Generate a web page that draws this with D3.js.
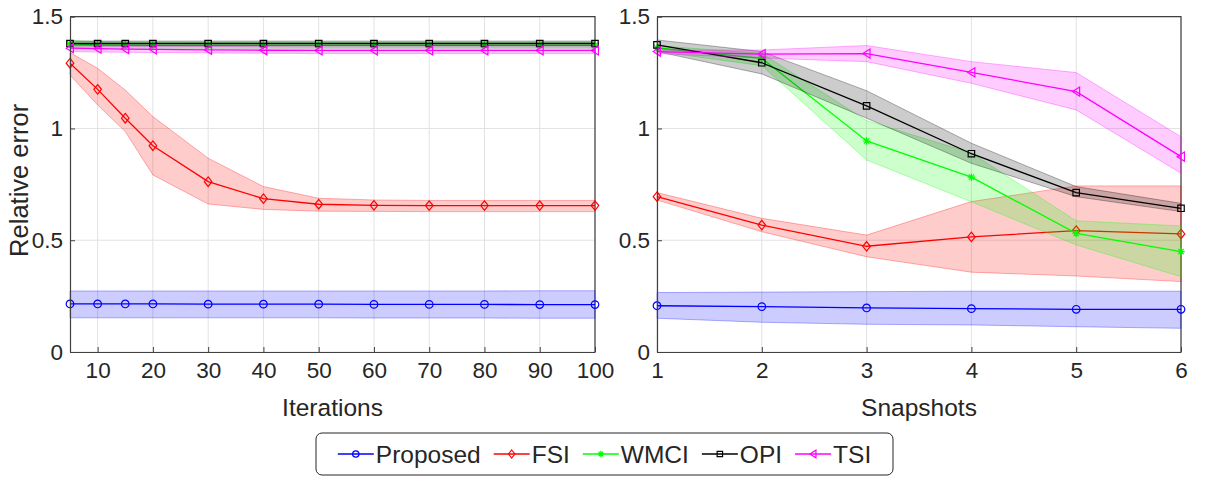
<!DOCTYPE html>
<html>
<head>
<meta charset="utf-8">
<script src="https://cdn.jsdelivr.net/npm/d3@7"></script>
<style>
  body { margin: 0; background: #fff; }
  text { font-family: "Liberation Sans", Arial, sans-serif; fill: #262626; }
</style>
</head>
<body>
<div id="chart-area"></div>
<script>
// ---- data ----
const seriesNames = ["Proposed", "FSI", "WMCI", "OPI", "TSI"]
const seriesColors = ["#0000ff", "#ff0000", "#00ff00", "#000000", "#ff00ff"]
const seriesMarkers = ["circle", "diamond", "asterisk", "square", "triangleLeft"]

// left panel: iterations
const iterations = [5, 10, 15, 20, 30, 40, 50, 60, 70, 80, 90, 100]
const iterTicks = [10, 20, 30, 40, 50, 60, 70, 80, 90, 100]
const iterProposed = [0.215, 0.215, 0.215, 0.215, 0.214, 0.214, 0.214, 0.213, 0.213, 0.213, 0.212, 0.212]
const iterProposedHi = [0.273, 0.273, 0.273, 0.273, 0.273, 0.273, 0.273, 0.273, 0.273, 0.273, 0.274, 0.274]
const iterProposedLo = [0.153, 0.153, 0.153, 0.153, 0.153, 0.153, 0.153, 0.152, 0.152, 0.152, 0.151, 0.151]
const iterFSI = [1.292, 1.175, 1.046, 0.923, 0.762, 0.686, 0.661, 0.656, 0.655, 0.655, 0.655, 0.655]
const iterFSIHi = [1.339, 1.269, 1.172, 1.053, 0.867, 0.740, 0.688, 0.680, 0.678, 0.678, 0.678, 0.678]
const iterFSILo = [1.239, 1.105, 0.986, 0.792, 0.662, 0.638, 0.630, 0.629, 0.628, 0.628, 0.628, 0.628]
const iterWMCI = [1.378, 1.374, 1.373, 1.372, 1.372, 1.372, 1.372, 1.372, 1.372, 1.372, 1.372, 1.372]
const iterWMCIHi = [1.395, 1.388, 1.386, 1.385, 1.385, 1.385, 1.385, 1.385, 1.385, 1.385, 1.385, 1.385]
const iterWMCILo = [1.362, 1.360, 1.359, 1.359, 1.359, 1.359, 1.359, 1.359, 1.359, 1.359, 1.359, 1.359]
const iterOPI = [1.380, 1.380, 1.380, 1.380, 1.380, 1.380, 1.380, 1.380, 1.380, 1.380, 1.380, 1.380]
const iterOPIHi = [1.391, 1.391, 1.391, 1.391, 1.391, 1.391, 1.391, 1.391, 1.391, 1.391, 1.391, 1.391]
const iterOPILo = [1.369, 1.369, 1.369, 1.369, 1.369, 1.369, 1.369, 1.369, 1.369, 1.369, 1.369, 1.369]
const iterTSI = [1.359, 1.357, 1.355, 1.354, 1.352, 1.350, 1.349, 1.349, 1.349, 1.349, 1.349, 1.349]
const iterTSIHi = [1.372, 1.370, 1.369, 1.368, 1.367, 1.366, 1.365, 1.365, 1.365, 1.365, 1.365, 1.365]
const iterTSILo = [1.344, 1.342, 1.341, 1.340, 1.338, 1.336, 1.335, 1.335, 1.335, 1.335, 1.335, 1.335]

// right panel: snapshots
const snapshots = [1, 2, 3, 4, 5, 6]
const snapProposed = [0.207, 0.203, 0.197, 0.194, 0.191, 0.191]
const snapProposedHi = [0.266, 0.268, 0.270, 0.272, 0.272, 0.272]
const snapProposedLo = [0.151, 0.133, 0.124, 0.121, 0.113, 0.106]
const snapFSI = [0.695, 0.568, 0.473, 0.515, 0.543, 0.528]
const snapFSIHi = [0.713, 0.598, 0.523, 0.673, 0.743, 0.743]
const snapFSILo = [0.680, 0.538, 0.426, 0.357, 0.340, 0.315]
const snapWMCI = [1.360, 1.314, 0.944, 0.782, 0.531, 0.449]
const snapWMCIHi = [1.370, 1.336, 1.035, 0.890, 0.587, 0.564]
const snapWMCILo = [1.345, 1.281, 0.859, 0.672, 0.479, 0.337]
const snapOPI = [1.374, 1.294, 1.101, 0.887, 0.713, 0.643]
const snapOPIHi = [1.396, 1.344, 1.169, 0.934, 0.740, 0.665]
const snapOPILo = [1.344, 1.244, 1.046, 0.844, 0.695, 0.628]
const snapTSI = [1.344, 1.333, 1.335, 1.251, 1.165, 0.874]
const snapTSIHi = [1.350, 1.351, 1.371, 1.299, 1.250, 0.963]
const snapTSILo = [1.335, 1.315, 1.299, 1.202, 1.083, 0.800]

const yTicks = [0, 0.5, 1, 1.5]
const yTickLabels = ["0", "0.5", "1", "1.5"]

// ---- layout ----
const W = 1208, H = 477
const TOP = 16.7, BOTTOM = 352
const svg = d3.select("#chart-area").append("svg")
	.attr("width", W)
	.attr("height", H)

const y = d3.scaleLinear().domain([0, 1.5]).range([BOTTOM, TOP])

const panels = [
	{
		x: d3.scaleLinear().domain([5, 100]).range([70, 595]),
		xs: iterations, ticks: iterTicks, label: "Iterations",
		mean: [iterProposed, iterFSI, iterWMCI, iterOPI, iterTSI],
		hi: [iterProposedHi, iterFSIHi, iterWMCIHi, iterOPIHi, iterTSIHi],
		lo: [iterProposedLo, iterFSILo, iterWMCILo, iterOPILo, iterTSILo]
	},
	{
		x: d3.scaleLinear().domain([1, 6]).range([657, 1181]),
		xs: snapshots, ticks: snapshots, label: "Snapshots",
		mean: [snapProposed, snapFSI, snapWMCI, snapOPI, snapTSI],
		hi: [snapProposedHi, snapFSIHi, snapWMCIHi, snapOPIHi, snapTSIHi],
		lo: [snapProposedLo, snapFSILo, snapWMCILo, snapOPILo, snapTSILo]
	}
]

// marker paths, centred at 0,0
function markerPath(type, s) {
	switch (type) {
		case "circle":
			return `M${-s},0A${s},${s} 0 1,0 ${s},0A${s},${s} 0 1,0 ${-s},0Z`
		case "diamond":
			return `M0,${-s * 1.25}L${s},0L0,${s * 1.25}L${-s},0Z`
		case "square":
			return `M${-s * 0.85},${-s * 0.85}H${s * 0.85}V${s * 0.85}H${-s * 0.85}Z`
		case "triangleLeft":
			return `M${-s},0L${s * 0.9},${-s * 1.2}L${s * 0.9},${s * 1.2}Z`
		case "asterisk": {
			const d = s * 0.7
			return `M${-s},0H${s}M0,${-s}V${s}M${-d},${-d}L${d},${d}M${-d},${d}L${d},${-d}`
		}
	}
}

panels.forEach(p => {
	const x = p.x
	const [x0, x1] = x.range()
	const g = svg.append("g")

	// grid
	g.selectAll(".vgrid").data(p.ticks).enter().append("line")
		.attr("x1", d => x(d)).attr("x2", d => x(d))
		.attr("y1", TOP).attr("y2", BOTTOM)
		.attr("stroke", "#e2e2e2").attr("stroke-width", 1)
	g.selectAll(".hgrid").data(yTicks).enter().append("line")
		.attr("x1", x0).attr("x2", x1)
		.attr("y1", d => y(d)).attr("y2", d => y(d))
		.attr("stroke", "#e2e2e2").attr("stroke-width", 1)

	// box top / right
	g.append("path")
		.attr("d", `M${x0},${TOP}H${x1}V${BOTTOM}`)
		.attr("fill", "none").attr("stroke", "#404040").attr("stroke-width", 1.2)

	// series: band then line + markers
	seriesNames.forEach((name, i) => {
		const col = seriesColors[i]
		const idx = d3.range(p.xs.length)
		const area = d3.area()
			.x(j => x(p.xs[j]))
			.y0(j => y(p.lo[i][j]))
			.y1(j => y(p.hi[i][j]))
		g.append("path")
			.attr("d", area(idx))
			.attr("fill", col).attr("fill-opacity", 0.2)
			.attr("stroke", col).attr("stroke-opacity", 0.3).attr("stroke-width", 1)
		const line = d3.line()
			.x(j => x(p.xs[j]))
			.y(j => y(p.mean[i][j]))
		g.append("path")
			.attr("d", line(idx))
			.attr("fill", "none").attr("stroke", col).attr("stroke-width", 1.3)
		g.selectAll(null).data(idx).enter().append("path")
			.attr("transform", j => `translate(${x(p.xs[j])},${y(p.mean[i][j])})`)
			.attr("d", markerPath(seriesMarkers[i], 3.8))
			.attr("fill", "none").attr("stroke", col).attr("stroke-width", 1.2)
	})

	// axes
	const xAxis = g.append("g")
		.attr("transform", `translate(0, ${BOTTOM})`)
		.call(d3.axisBottom(x).tickValues(p.ticks).tickFormat(d3.format("d"))
			.tickSizeInner(-5).tickSizeOuter(0).tickPadding(10))
	const yAxis = g.append("g")
		.attr("transform", `translate(${x0}, 0)`)
		.call(d3.axisLeft(y).tickValues(yTicks).tickFormat((d, k) => yTickLabels[k])
			.tickSizeInner(-5).tickSizeOuter(0).tickPadding(7))
	;[xAxis, yAxis].forEach(a => {
		a.select(".domain").attr("stroke", "#404040").attr("stroke-width", 1.2)
		a.selectAll(".tick line").attr("stroke", "#404040")
		a.selectAll(".tick text").attr("font-size", "22.5px").attr("fill", "#262626")
			.style("font-family", "'Liberation Sans', Arial, sans-serif")
	})

	g.append("text")
		.attr("x", (x0 + x1) / 2)
		.attr("y", 416)
		.attr("text-anchor", "middle")
		.attr("font-size", "24.5px")
		.text(p.label)
})

// y label
svg.append("text")
	.attr("transform", `translate(28, ${(TOP + BOTTOM) / 2 - 4}) rotate(-90)`)
	.attr("text-anchor", "middle")
	.attr("font-size", "25.5px")
	.text("Relative error")

// legend
const leg = svg.append("g")
const legBox = leg.append("rect")
	.attr("y", 433).attr("height", 42)
	.attr("rx", 6).attr("ry", 6)
	.attr("fill", "#fff").attr("stroke", "#262626").attr("stroke-width", 1)
let cx = 0
const items = leg.append("g")
seriesNames.forEach((name, i) => {
	const it = items.append("g").attr("transform", `translate(${cx},0)`)
	it.append("line")
		.attr("x1", 0).attr("x2", 36).attr("y1", 454).attr("y2", 454)
		.attr("stroke", seriesColors[i]).attr("stroke-width", 1.3)
	it.append("path")
		.attr("transform", "translate(18,454)")
		.attr("d", markerPath(seriesMarkers[i], 3.2))
		.attr("fill", "none").attr("stroke", seriesColors[i]).attr("stroke-width", 1.2)
	const t = it.append("text")
		.attr("x", 38).attr("y", 454).attr("dy", "0.35em")
		.attr("font-size", "24.5px")
		.text(name)
	cx += 38 + t.node().getComputedTextLength() + 13
})
const total = cx - 13
const startX = (316 + 893) / 2 - total / 2
items.attr("transform", `translate(${startX},0)`)
legBox.attr("x", 316).attr("width", 893 - 316)
</script>
</body>
</html>
